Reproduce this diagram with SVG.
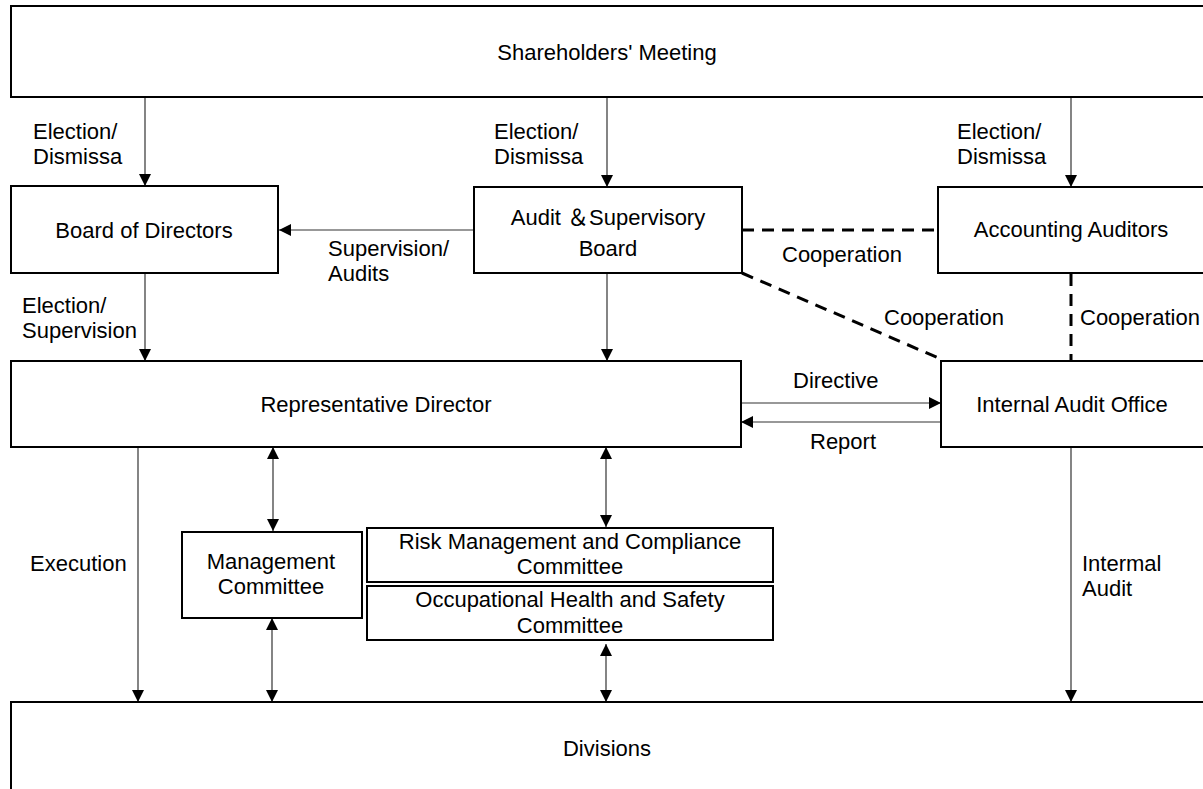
<svg xmlns="http://www.w3.org/2000/svg" width="1203" height="789" viewBox="0 0 1203 789">
<style>
.box{fill:#fff;stroke:#000;stroke-width:2}
.t{font-family:"Liberation Sans",Arial,"Noto Sans CJK JP",sans-serif;font-size:22px;fill:#000}
.c{text-anchor:middle}
.ln{stroke:#333;stroke-width:1.2;fill:none}
.dash{stroke:#000;stroke-width:3;stroke-dasharray:12,8;fill:none}
</style>
<defs>
<marker id="ah" markerUnits="userSpaceOnUse" viewBox="0 0 12 12" refX="12" refY="6" markerWidth="12" markerHeight="12" orient="auto-start-reverse">
<path d="M0,0 L12,6 L0,12 Z" fill="#000"/>
</marker>
</defs>
<rect width="1203" height="789" fill="#fff"/>

<g id="connectors">
<line class="ln" x1="145" y1="97" x2="145" y2="186" marker-end="url(#ah)"/>
<line class="ln" x1="607" y1="97" x2="607" y2="187" marker-end="url(#ah)"/>
<line class="ln" x1="1071" y1="97" x2="1071" y2="187" marker-end="url(#ah)"/>
<line class="ln" x1="474" y1="230" x2="279" y2="230" marker-end="url(#ah)"/>
<line class="dash" x1="742" y1="230" x2="938" y2="230"/>
<line class="dash" x1="742" y1="273" x2="943" y2="360"/>
<line class="dash" x1="1071" y1="274" x2="1071" y2="361"/>
<line class="ln" x1="145" y1="273" x2="145" y2="361" marker-end="url(#ah)"/>
<line class="ln" x1="607" y1="273" x2="607" y2="361" marker-end="url(#ah)"/>
<line class="ln" x1="741" y1="403" x2="941" y2="403" marker-end="url(#ah)"/>
<line class="ln" x1="941" y1="422" x2="741" y2="422" marker-end="url(#ah)"/>
<line class="ln" x1="138" y1="447" x2="138" y2="702" marker-end="url(#ah)"/>
<line class="ln" x1="273" y1="447" x2="273" y2="531" marker-start="url(#ah)" marker-end="url(#ah)"/>
<line class="ln" x1="606" y1="447" x2="606" y2="527" marker-start="url(#ah)" marker-end="url(#ah)"/>
<line class="ln" x1="272" y1="618" x2="272" y2="702" marker-start="url(#ah)" marker-end="url(#ah)"/>
<line class="ln" x1="606" y1="644" x2="606" y2="702" marker-start="url(#ah)" marker-end="url(#ah)"/>
<line class="ln" x1="1071" y1="447" x2="1071" y2="702" marker-end="url(#ah)"/>
</g>

<g id="labels">
<text class="t" x="33" y="139">Election/</text>
<text class="t" x="33" y="164">Dismissa</text>
<text class="t" x="494" y="139">Election/</text>
<text class="t" x="494" y="164">Dismissa</text>
<text class="t" x="957" y="139">Election/</text>
<text class="t" x="957" y="164">Dismissa</text>
<text class="t" x="328" y="256">Supervision/</text>
<text class="t" x="328" y="281">Audits</text>
<text class="t" x="782" y="262">Cooperation</text>
<text class="t" x="884" y="325">Cooperation</text>
<text class="t" x="1080" y="325">Cooperation</text>
<text class="t" x="22" y="313">Election/</text>
<text class="t" x="22" y="338">Supervision</text>
<text class="t" x="793" y="388">Directive</text>
<text class="t" x="810" y="449">Report</text>
<text class="t" x="30" y="571">Execution</text>
<text class="t" x="1082" y="571">Intermal</text>
<text class="t" x="1082" y="596">Audit</text>
</g>

<g id="shareholders">
<rect class="box" x="11" y="6" width="1200" height="91"/>
<text class="t c" x="607" y="60">Shareholders' Meeting</text>
</g>
<g id="board">
<rect class="box" x="11" y="186" width="267" height="87"/>
<text class="t c" x="144" y="238">Board of Directors</text>
</g>
<g id="audit-board">
<rect class="box" x="474" y="187" width="268" height="86"/>
<text class="t c" x="608" y="225">Audit ＆Supervisory</text>
<text class="t c" x="608" y="256">Board</text>
</g>
<g id="accounting">
<rect class="box" x="938" y="187" width="275" height="86"/>
<text class="t c" x="1071" y="237">Accounting Auditors</text>
</g>
<g id="rep-director">
<rect class="box" x="11" y="361" width="730" height="86"/>
<text class="t c" x="376" y="412">Representative Director</text>
</g>
<g id="internal-audit">
<rect class="box" x="941" y="361" width="272" height="86"/>
<text class="t c" x="1072" y="412">Internal Audit Office</text>
</g>
<g id="management">
<rect class="box" x="182" y="532" width="180" height="86"/>
<text class="t c" x="271" y="569">Management</text>
<text class="t c" x="271" y="594">Committee</text>
</g>
<g id="risk">
<rect class="box" x="367" y="528" width="406" height="54"/>
<text class="t c" x="570" y="549">Risk Management and Compliance</text>
<text class="t c" x="570" y="574">Committee</text>
</g>
<g id="ohs">
<rect class="box" x="367" y="586" width="406" height="54"/>
<text class="t c" x="570" y="607">Occupational Health and Safety</text>
<text class="t c" x="570" y="633">Committee</text>
</g>
<g id="divisions">
<rect class="box" x="11" y="702" width="1200" height="100"/>
<text class="t c" x="607" y="756">Divisions</text>
</g>
</svg>
